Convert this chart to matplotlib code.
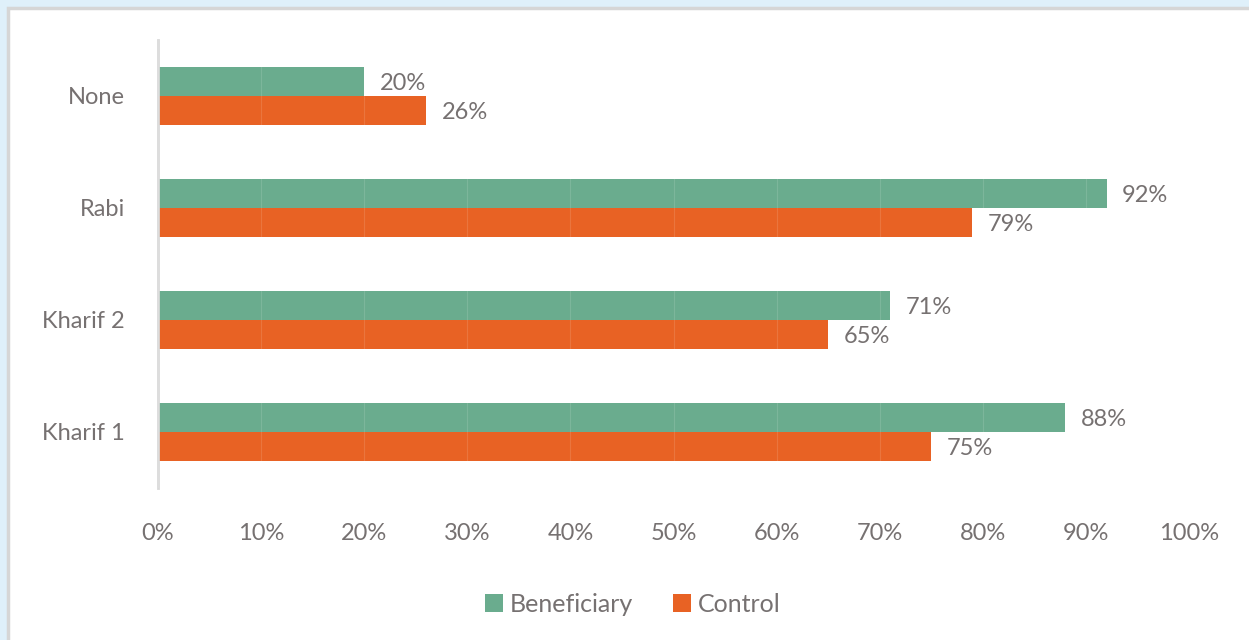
import matplotlib
matplotlib.use("Agg")
from matplotlib import pyplot as plt
from matplotlib.patches import Rectangle
import numpy as np

categories = ["Kharif 1", "Kharif 2", "Rabi", "None"]
beneficiary = [88, 71, 92, 20]
control = [75, 65, 79, 26]
xticks = [0, 10, 20, 30, 40, 50, 60, 70, 80, 90, 100]

GREEN = "#6aac8e"
ORANGE = "#e86224"
TEXT = "#767171"

plt.rcParams["font.family"] = ["Lato", "DejaVu Sans"]

W, H = 1249, 640
fig = plt.figure(figsize=(W / 100, H / 100), dpi=100, facecolor="#dff0fa")

# white panel with grey rim, kept behind the axes
fig.patches.append(Rectangle((7.5 / W, -0.1), 1.2, 1.1 - 7.5 / H,
                             transform=fig.transFigure, facecolor="white",
                             edgecolor="#d6d6d6", linewidth=2.5, zorder=-10))

ax = fig.add_axes([158 / W, 1 - 488 / H, (1189 - 158) / W, (488 - 40) / H])
ax.set_facecolor("none")

y = np.arange(len(categories))
h = 0.26
ax.barh(y + h / 2, beneficiary, height=h, color=GREEN, label="Beneficiary", zorder=2)
ax.barh(y - h / 2, control, height=h, color=ORANGE, label="Control", zorder=2)

for yi, b, c in zip(y, beneficiary, control):
    ax.text(b + 1.5, yi + h / 2 - 0.02, f"{b}%", va="center", ha="left",
            fontsize=17, color=TEXT)
    ax.text(c + 1.5, yi - h / 2 - 0.02, f"{c}%", va="center", ha="left",
            fontsize=17, color=TEXT)

ax.set_xlim(0, 100)
ax.set_ylim(-0.5, 3.5)
ax.set_xticks(xticks)
ax.set_xticklabels([f"{t}%" for t in xticks], fontsize=17, color=TEXT)
ax.set_yticks(y)
ax.set_yticklabels(categories, fontsize=17, color=TEXT)
ax.tick_params(axis="both", length=0)
ax.tick_params(axis="x", pad=25)
ax.tick_params(axis="y", pad=24)
ax.xaxis.grid(True, color="white", alpha=0.12, linewidth=0.8, zorder=3)
ax.set_axisbelow(False)

for s in ["top", "right", "bottom"]:
    ax.spines[s].set_visible(False)
ax.spines["left"].set_color("#d9d9d9")
ax.spines["left"].set_linewidth(2)

fig.legend(loc="center", bbox_to_anchor=(633 / W, 1 - 604 / H), ncol=2,
           frameon=False, fontsize=18, labelcolor=TEXT, handlelength=0.7,
           handleheight=0.7, handletextpad=0.3, columnspacing=1.6)

fig.savefig("out.png", dpi=100, facecolor=fig.get_facecolor())
